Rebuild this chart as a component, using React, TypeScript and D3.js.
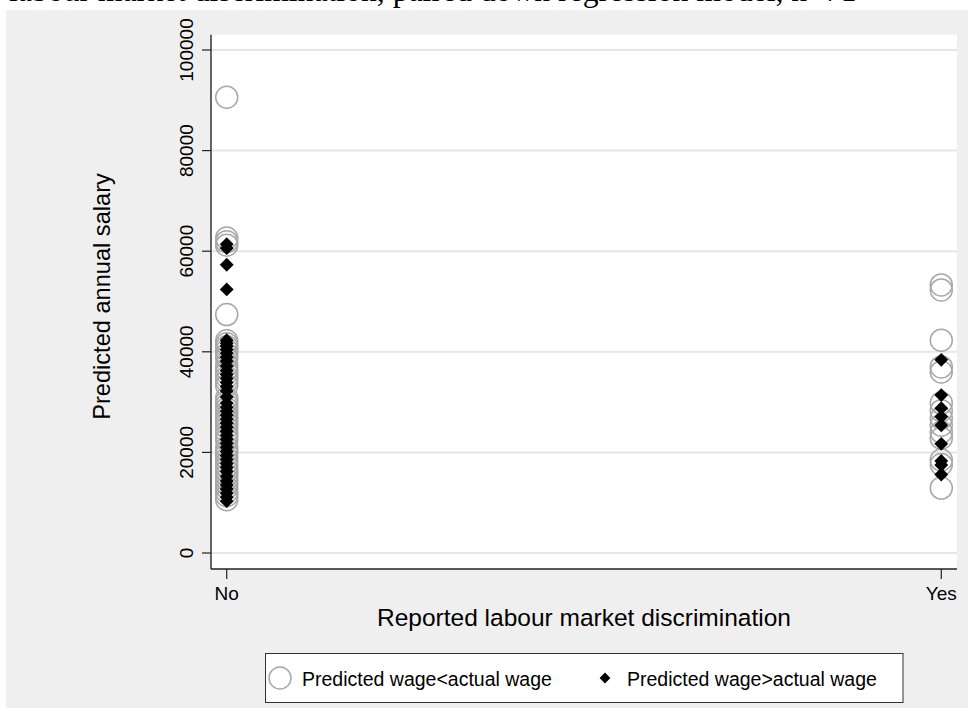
import React from 'react'
import { scaleLinear, scalePoint, symbol, symbolSquare } from 'd3'

// categories on the x axis
const categories = ['No', 'Yes']

// Predicted wage < actual wage (hollow circles)
const noCircles = [90600, 62600, 61900, 61200, 47400, 42200, 41600, 41000, 40300, 39500, 38800, 37400, 36500, 35800, 35000, 34200, 33300, 30800, 30100, 29400, 28700, 27900, 27100, 26400, 25700, 24900, 24100, 23300, 22500, 21000, 20300, 19600, 18800, 18000, 17200, 16300, 15500, 14600, 13800, 13000, 12200, 11400, 10600]
const yesCircles = [53300, 52300, 42300, 37000, 36000, 29800, 28300, 26800, 25400, 24000, 22800, 18500, 17600, 12900]

// Predicted wage > actual wage (filled diamonds)
const noDiamonds = [61400, 60600, 57300, 52400, 42300, 41700, 41100, 40400, 39700, 38900, 38100, 37200, 36300, 35500, 34700, 33900, 33100, 32200, 31000, 29800, 29000, 28200, 27400, 26600, 25800, 25000, 24200, 23400, 22600, 21800, 21000, 20200, 19400, 18600, 17800, 17000, 16200, 15200, 14300, 13500, 12700, 11900, 11100, 10300]
const yesDiamonds = [38400, 31400, 28800, 27100, 25400, 21700, 18300, 17500, 15600]

const yTicks = [0, 20000, 40000, 60000, 80000, 100000]

const legendLabels = ['Predicted wage<actual wage', 'Predicted wage>actual wage']

const W = 968
const H = 711
const left = 211
const right = 957
const top = 34.7
const bottom = 569
const font = '"Liberation Sans", Arial, Helvetica, sans-serif'

const App = () => {
    const x = scalePoint().domain(categories).range([left, right]).padding(0.022)
    const y = scaleLinear().domain([0, 100000]).range([553, 50])

    const circles = [
        ...noCircles.map(v => ({ cat: 'No', v })),
        ...yesCircles.map(v => ({ cat: 'Yes', v })),
    ]
    const diamonds = [
        ...noDiamonds.map(v => ({ cat: 'No', v })),
        ...yesDiamonds.map(v => ({ cat: 'Yes', v })),
    ]

    // rotated squares make the diamonds
    const diamondPath = symbol(symbolSquare, 96)()
    const legendDiamond = symbol(symbolSquare, 58)()
    const cx = (left + right) / 2

    return (
        <svg width={W} height={H} style={{ position: 'absolute', left: 0, top: 0, background: '#fff' }} fontFamily={font}>
            {/* caption cut off at the very top, as in the source */}
            <text x={9} y={0.5} fontFamily='"Liberation Serif", "Times New Roman", serif' fontSize={31.7} fill="#000">
                labour market discrimination, paired down regression model, n=71
            </text>

            <rect x={6} y={10} width={W - 6} height={698} fill="#efefef" />
            <rect x={left} y={top} width={right - left} height={bottom - top} fill="#fff" />

            {/* grid */}
            {yTicks.map(t => (
                <line key={'g' + t} x1={left} x2={right} y1={y(t)} y2={y(t)} stroke="#e6e6e6" strokeWidth={2} />
            ))}

            {/* points */}
            {circles.map((d, i) => (
                <circle key={'c' + i} cx={x(d.cat)} cy={y(d.v)} r={11} fill="none" stroke="#a8a8a8" strokeWidth={1.5} />
            ))}
            {diamonds.map((d, i) => (
                <path key={'d' + i} d={diamondPath} transform={`translate(${x(d.cat)},${y(d.v)}) rotate(45)`} fill="#000" />
            ))}

            {/* axes */}
            <line x1={left} x2={left} y1={top} y2={bottom} stroke="#333" strokeWidth={1.5} />
            <line x1={left} x2={right} y1={bottom} y2={bottom} stroke="#222" strokeWidth={1.5} />
            {yTicks.map(t => (
                <g key={'t' + t}>
                    <line x1={left - 9} x2={left} y1={y(t)} y2={y(t)} stroke="#222" strokeWidth={1.2} />
                    <text transform={`translate(193,${y(t)}) rotate(-90)`} textAnchor="middle" fontSize={19} fill="#000">{t}</text>
                </g>
            ))}
            {categories.map(c => (
                <g key={c}>
                    <line x1={x(c)} x2={x(c)} y1={bottom} y2={bottom + 10} stroke="#222" strokeWidth={1.2} />
                    <text x={x(c)} y={599.5} textAnchor="middle" fontSize={19} fill="#000">{c}</text>
                </g>
            ))}

            <text transform="translate(110,296.5) rotate(-90)" textAnchor="middle" fontSize={23.6} fill="#000">Predicted annual salary</text>
            <text x={cx} y={626} textAnchor="middle" fontSize={24.5} fill="#000">Reported labour market discrimination</text>

            {/* legend */}
            <rect x={265.5} y={653.5} width={637.5} height={49} fill="#fff" stroke="#333" strokeWidth={1} />
            <circle cx={280} cy={678} r={11} fill="none" stroke="#a8a8a8" strokeWidth={1.5} />
            <text x={302} y={685.5} fontSize={19.5} fill="#000">{legendLabels[0]}</text>
            <path d={legendDiamond} transform="translate(605,678) rotate(45)" fill="#000" />
            <text x={627} y={685.5} fontSize={19.5} fill="#000">{legendLabels[1]}</text>
        </svg>
    )
}

export default App
